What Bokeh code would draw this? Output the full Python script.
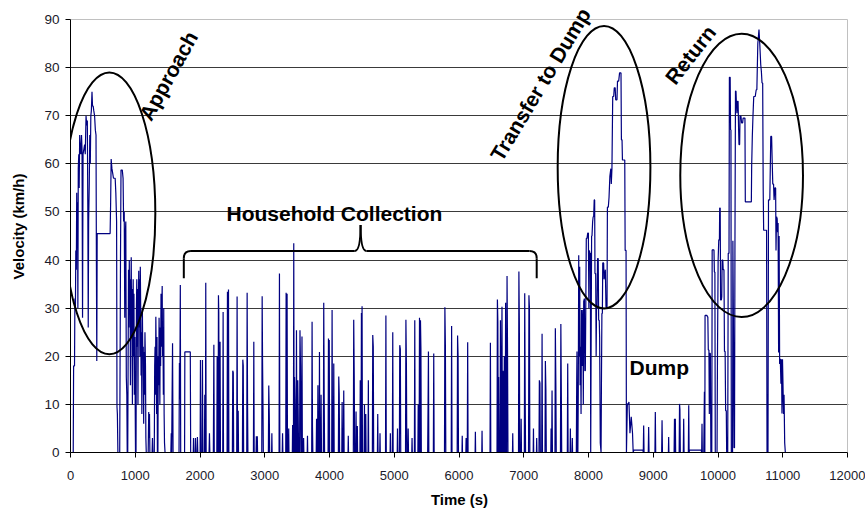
import math
from bokeh.plotting import figure
from bokeh.models import FixedTicker, Range1d, Label
from bokeh.embed import file_html
from bokeh.resources import INLINE

# ---------------- data (time s, velocity km/h) ----------------
approach_t = [0, 42, 48, 62, 68, 76, 82, 90, 96, 102, 108, 114, 120, 128, 134, 142, 150, 160, 170, 178,
              186, 194, 206, 218, 228, 240, 250, 260, 268, 274, 280, 290, 298, 306, 314, 322, 332, 340,
              350, 360, 372, 384, 394, 400, 406, 412, 612, 620, 628, 640, 652, 664, 676, 690, 700, 712,
              718, 724, 732, 760, 766, 772, 780, 800, 812, 820, 830, 838, 846, 854, 862, 870, 876, 884,
              890, 896, 902, 908, 914, 920, 926, 932, 938, 944, 950, 956, 962, 968, 974, 980, 986, 994,
              1000, 1004, 1012, 1018, 1024, 1030, 1036, 1042, 1048, 1054, 1060, 1066, 1072, 1078, 1084,
              1090, 1096, 1102, 1110, 1116, 1124, 1130, 1136, 1142, 1150, 1158, 1164, 1170, 1200, 1208,
              1214, 1220, 1226, 1260, 1266, 1272, 1294, 1300, 1306, 1312, 1318, 1324, 1330, 1336, 1342,
              1350, 1356, 1362, 1368, 1374, 1380, 1386, 1392, 1398, 1404, 1410, 1416, 1422, 1428, 1434,
              1440, 1446, 1452, 1460]
approach_v = [0, 0, 18, 18, 32, 30, 42, 38, 54, 43, 52, 30, 59, 62, 55, 66, 63, 62, 66, 63,
              28, 62, 63, 64, 62, 70, 68, 69, 49, 26, 48, 56, 66, 60, 70, 71, 75, 72,
              72, 71, 70, 67, 66, 40, 19, 45.5, 45.5, 52, 61, 59, 58, 57, 57, 57, 54, 48,
              9.5, 8, 0, 0, 20, 40, 58.7, 58.7, 57, 48, 50, 28, 45, 48, 15.7, 12, 0, 0,
              20, 38, 26, 40, 30, 36, 14, 32, 40.6, 24, 34, 10, 28, 36, 20, 33, 12, 24,
              8, 0, 0, 30, 36, 22, 34, 10, 30, 37.8, 26, 36, 20, 38.6, 30,
              16, 25, 8, 30, 20, 22, 6, 20.9, 12, 25, 18, 3, 0, 0, 8.4,
              3, 8, 0, 0, 3, 0, 0, 18, 22, 12, 28.2, 20, 8, 24, 0,
              0, 20, 14, 28, 20, 10, 26, 18, 33, 22, 30, 34.6, 20, 26, 12,
              30, 8, 2, 0]

collection_t = [1550, 1556, 1562, 1568, 1576, 1584, 1676, 1682, 1688, 1696, 1702, 1762, 1766, 1850, 1856,
                1896, 1900, 1904, 1926, 1930, 1934, 1954, 1960, 1966, 2002, 2007, 2013, 2032, 2038, 2044,
                2068, 2074, 2080, 2084, 2089, 2095, 2140, 2146, 2152, 2206, 2210, 2214, 2220, 2260, 2265,
                2271, 2280, 2285, 2290, 2296, 2304, 2310, 2316, 2351, 2357, 2363, 2418, 2424, 2430, 2434,
                2440, 2446, 2500, 2506, 2514, 2520, 2567, 2573, 2579, 2585, 2590, 2595, 2655, 2661, 2668,
                2674, 2722, 2728, 2734, 2740, 2825, 2831, 2837, 2866, 2870, 2874, 2881, 2885, 2889, 2954,
                2960, 2966, 2972, 2978, 3056, 3062, 3070, 3076, 3106, 3110, 3114, 3221, 3227, 3233, 3270,
                3275, 3280, 3324, 3330, 3338, 3341, 3345, 3351, 3366, 3370, 3374, 3426, 3430, 3436, 3443,
                3448, 3454, 3456, 3460, 3466, 3472, 3484, 3490, 3496, 3504, 3510, 3516, 3522, 3538, 3544,
                3552, 3560, 3568, 3575, 3581, 3596, 3600, 3604, 3656, 3660, 3664, 3725, 3731, 3737, 3743,
                3795, 3800, 3805, 3815, 3821, 3827, 3840, 3845, 3851, 3864, 3870, 3876, 3905, 3911, 3918,
                3924, 3978, 3984, 3990, 3992, 3996, 4002, 4034, 4040, 4046, 4052, 4060, 4066, 4072, 4137,
                4143, 4150, 4156, 4190, 4195, 4200, 4214, 4220, 4226, 4286, 4290, 4294, 4368, 4374, 4382,
                4388, 4405, 4410, 4415, 4426, 4430, 4434, 4470, 4475, 4480, 4487, 4493, 4497, 4499, 4503,
                4509, 4535, 4540, 4545, 4555, 4560, 4565, 4595, 4600, 4605, 4662, 4668, 4676, 4682, 4740,
                4745, 4750, 4776, 4780, 4784, 4865, 4871, 4877, 4936, 4940, 4944, 4971, 4977, 4983, 5046,
                5050, 5054, 5079, 5085, 5094, 5100, 5174, 5180, 5188, 5194, 5210, 5215, 5220, 5271, 5275,
                5279, 5311, 5317, 5323, 5365, 5370, 5375, 5384, 5390, 5396, 5400, 5405, 5412, 5418, 5516,
                5522, 5528, 5534, 5604, 5610, 5616, 5776, 5782, 5790, 5796, 5880, 5886, 5892, 5972, 5978,
                5986, 5992, 6046, 6050, 6054, 6106, 6110, 6114, 6128, 6134, 6140, 6249, 6253, 6257, 6352,
                6356, 6360, 6479, 6485, 6491, 6587, 6593, 6600, 6606, 6608, 6612, 6618, 6634, 6640, 6646,
                6652, 6658, 6664, 6670, 6676, 6680, 6686, 6694, 6700, 6706, 6714, 6720, 6726, 6736, 6742,
                6750, 6756, 6826, 6830, 6834, 6919, 6925, 6932, 6938, 6955, 6960, 6965, 7009, 7015, 7022,
                7028, 7074, 7080, 7088, 7094, 7146, 7150, 7154, 7196, 7200, 7204, 7235, 7241, 7250, 7256,
                7277, 7283, 7289, 7328, 7334, 7342, 7348, 7418, 7422, 7426, 7431, 7437, 7443, 7482, 7488,
                7496, 7502, 7567, 7573, 7580, 7586, 7673, 7679, 7685, 7716, 7720, 7724, 7745, 7750, 7754,
                7800]
collection_v = [0, 4, 0, 10, 22.7, 0, 0, 18.6, 11, 34.8, 0, 0, 20.9, 20.9, 0,
                0, 3, 0, 0, 3, 0, 0, 3.2, 0, 0, 19.2, 0, 0, 19.2, 0,
                0, 12, 0, 0, 35.3, 0, 0, 4, 0, 0, 10.5, 22.4, 0, 0, 20,
                0, 0, 32.7, 29.2, 0, 0, 23, 0, 0, 29.2, 0, 0, 33.4, 0, 0,
                33.9, 0, 0, 17, 16.6, 0, 0, 32.4, 0, 0, 8.7, 0, 0, 19.3, 18,
                0, 0, 33.2, 11, 0, 0, 23, 0, 0, 3.4, 0, 0, 3.4, 0, 0,
                32.5, 19, 11, 0, 0, 13.9, 7.7, 0, 0, 4, 0, 0, 37.2, 0, 0,
                4, 0, 0, 33.2, 0, 0, 33, 0, 0, 5, 0, 0, 5.7, 0, 0,
                43.5, 0, 0, 15.7, 11, 0, 0, 25.4, 0, 0, 15, 9, 0, 0, 25.4,
                18, 0, 0, 24.1, 0, 0, 3, 0, 0, 3.5, 0, 0, 27.2, 5.5, 0,
                0, 7, 0, 0, 14, 0, 0, 20.9, 0, 0, 12, 0, 0, 31.1, 12,
                0, 0, 23.7, 0, 0, 23.4, 0, 0, 29.6, 3.5, 0, 0, 18.5, 0, 0,
                15.8, 12.2, 0, 0, 10.5, 0, 0, 12.9, 0, 0, 3.5, 0, 0, 27.6, 15.7,
                0, 0, 8.5, 0, 0, 5.5, 0, 0, 15, 0, 0, 29, 0, 0, 30.4,
                0, 0, 10, 0, 0, 8, 0, 0, 15, 0, 0, 24.4, 22, 0, 0,
                8, 0, 0, 4, 0, 0, 28.5, 0, 0, 4, 0, 0, 25, 0, 0,
                5, 0, 0, 22.3, 21.5, 0, 0, 27.6, 17.8, 0, 0, 5, 0, 0, 3,
                0, 0, 27.5, 0, 0, 10, 0, 0, 28, 0, 0, 27.5, 21.5, 0, 0,
                9.5, 21, 0, 0, 20.6, 0, 0, 30.2, 22, 0, 0, 26.3, 0, 0, 24.3,
                20, 0, 0, 3.5, 0, 0, 3, 0, 0, 22.9, 0, 0, 4.3, 0, 0,
                4.5, 0, 0, 22.8, 0, 0, 31.8, 27.2, 0, 0, 15.7, 0, 0, 27.5, 0,
                0, 18, 30.3, 0, 0, 17, 0, 0, 20, 0, 0, 31.1, 0, 0, 36.7,
                20, 0, 0, 4, 0, 0, 37.6, 26.7, 0, 0, 7, 0, 0, 33.1, 12,
                0, 0, 32.7, 30, 0, 0, 5, 0, 0, 3, 0, 0, 15, 14.4, 0,
                0, 24.7, 0, 0, 19, 13, 0, 0, 5, 0, 0, 12.9, 0, 0, 25.8,
                14, 0, 0, 26.7, 13, 0, 0, 18.5, 0, 0, 5, 0, 0, 3, 0,
                0]

transfer_t = [7812, 7818, 7822, 7828, 7836, 7842, 7849, 7856, 7864, 7870, 7878, 7885, 7892, 7900, 7906,
              7913, 7920, 7926, 7936, 7944, 7951, 7958, 7966, 7977, 7988, 7998, 8006, 8012, 8022, 8029,
              8034, 8040, 8048, 8054, 8064, 8072, 8080, 8088, 8095, 8100, 8111, 8118, 8124, 8132, 8140,
              8150, 8157, 8166, 8172, 8182, 8194, 8200, 8207, 8214, 8220, 8234, 8240, 8260, 8270, 8286,
              8292, 8306, 8317, 8330, 8345, 8352, 8362, 8374, 8389, 8398, 8412, 8420, 8440, 8448, 8466,
              8480, 8502, 8508, 8518, 8524, 8560, 8566, 8580, 8586, 8600, 8615, 8625, 8640, 8660, 8680,
              8690]
transfer_v = [0, 15, 21, 0, 0, 12, 41, 20, 38.6, 14, 22, 8, 29.6, 18, 26,
              29.6, 10, 31.4, 32, 17, 17, 30, 44.5, 44.5, 45.6, 45.6, 30, 42, 41.4, 41.4,
              0, 20, 45, 45, 48, 49, 49, 52.5, 52.5, 37.2, 37.2, 20, 30, 30, 40.3,
              40.3, 27.5, 27.5, 24, 2, 0, 15, 28.9, 28.9, 39.4, 39.4, 36, 38, 30.3, 30.3,
              51, 51, 53, 57.4, 59, 55.8, 59, 74, 74, 75.8, 75.8, 73.3, 73.3, 77.2, 77.2,
              78.9, 78.9, 65, 65, 60.8, 60.8, 42, 42, 0, 10.1, 10.1, 10.5, 4, 7.4, 4,
              0]

dump_t = [8700, 8840, 8846, 8852, 8858, 8923, 8929, 8935, 9026, 9032, 9038, 9130, 9136, 9142, 9234,
          9238, 9242, 9322, 9328, 9334, 9337, 9341, 9346, 9400, 9406, 9412, 9418, 9464, 9470, 9476,
          9542, 9548, 9554, 9560, 9740, 9748, 9753, 9758, 9780]
dump_v = [0.5, 0.5, 0, 5.6, 0, 0, 5.3, 0, 0, 8.4, 0, 0, 6.7, 0, 0,
          3.2, 0, 0, 7, 0, 0, 7, 0, 0, 10.1, 9, 0, 0, 7, 0,
          0, 9.8, 0, 0.5, 0.5, 0, 6, 0, 0]

return_t = [9790, 9797, 9800, 9830, 9836, 9843, 9850, 9860, 9866, 9872, 9882, 9890, 9904, 9910, 9938,
            9944, 9952, 9958, 9985, 9992, 10002, 10012, 10022, 10026, 10034, 10040, 10052, 10058, 10064,
            10074, 10080, 10092, 10100, 10110, 10118, 10128, 10134, 10150, 10158, 10170, 10176, 10188,
            10194, 10200, 10206, 10225, 10230, 10240, 10248, 10255, 10262, 10270, 10278, 10284, 10292,
            10300, 10310, 10318, 10324, 10334, 10340, 10355, 10364, 10380, 10388, 10416, 10422, 10515,
            10520, 10530, 10540, 10552, 10575, 10590, 10600, 10615, 10633, 10645, 10660, 10670, 10680,
            10690, 10698, 10705, 10750, 10757, 10772, 10780, 10800, 10815, 10828, 10836, 10846, 10858,
            10866, 10880, 10890, 10896, 10904, 10914, 10920, 10928, 10936, 10944, 10952, 10962, 10972,
            10980, 10988, 10996, 11004, 11012, 11020, 11030, 11040, 11100]
return_v = [12.6, 0, 28.5, 28.5, 28.2, 28.2, 21.3, 21.3, 8, 20.6, 20.6, 0, 0, 42.1, 42.1,
            37.5, 37.5, 0, 0, 20, 40, 44.2, 44.2, 50.8, 50.8, 31.7, 31.7, 32.4, 40,
            40, 38, 38, 21, 21, 8.7, 8.7, 0, 0, 41.4, 41.4, 78, 78,
            67.1, 67.1, 0, 0, 44, 22.6, 1, 1, 44, 75.1, 75.1, 72.6, 70.5,
            73, 73, 67.4, 64, 64, 69.9, 69.9, 68.5, 68.5, 69.5, 69.5, 52.1, 52.1,
            59.5, 65.7, 69.9, 74, 74, 75.4, 75.4, 85, 87.9, 85, 80.6, 79.2, 76.8,
            76.8, 54.6, 46.2, 46.2, 0, 0, 52.5, 52.5, 65.7, 65.7, 61, 55.8, 55.8,
            52.5, 55, 55, 42, 49, 48.6, 45.8, 47.7, 20.8, 45, 18.4, 19.5, 14.3,
            19.4, 8.1, 19.4, 14, 8, 12, 2, 0, 0]

x_ticks = [0, 1000, 2000, 3000, 4000, 5000, 6000, 7000, 8000, 9000, 10000, 11000, 12000]
y_ticks = [0, 10, 20, 30, 40, 50, 60, 70, 80, 90]
X_MAX, Y_MAX = 12000, 90

# annotation geometry (data units)
ellipse_x = [600, 8240, 10365]
ellipse_y = [49.7, 59.3, 57.6]
ellipse_w = [1420, 1432, 1895]
ellipse_h = [58.6, 58.7, 58.9]

time = approach_t + collection_t + transfer_t + dump_t + return_t
velocity = approach_v + collection_v + transfer_v + dump_v + return_v

FONT = "Liberation Sans"

# frame extends above 90 (to the canvas top) so rotated labels are not clipped;
# 19 px at 433 px / 90 km/h
y_top = Y_MAX + 19 * Y_MAX / 433.0
x_right = X_MAX + 1 * X_MAX / 777.0

p = figure(width=865, height=510, x_range=Range1d(0, x_right), y_range=Range1d(0, y_top),
           output_backend="svg", toolbar_location=None,
           min_border_left=70, min_border_right=17, min_border_top=0, min_border_bottom=58)
p.background_fill_color = "white"
p.border_fill_color = "white"
p.outline_line_color = None

p.xgrid.visible = False
p.ygrid.ticker = FixedTicker(ticks=y_ticks[1:-1])
p.ygrid.grid_line_color = "#3a3a3a"
p.ygrid.grid_line_width = 1
p.ygrid.bounds = (0, X_MAX)

for ax in (p.xaxis[0], p.yaxis[0]):
    ax.axis_line_color = "black"
    ax.axis_line_width = 1
    ax.major_tick_line_color = "black"
    ax.major_tick_in = 0
    ax.major_tick_out = 5
    ax.minor_tick_line_color = None
    ax.major_label_text_font = FONT
    ax.major_label_text_font_size = "13px"
    ax.major_label_text_color = "#1a1a2a"
    ax.axis_label_text_font = FONT
    ax.axis_label_text_font_size = "15px"
    ax.axis_label_text_font_style = "bold"
    ax.axis_label_text_color = "black"

p.yaxis.major_label_text_font_size = "13.5px"
p.xaxis.ticker = FixedTicker(ticks=x_ticks)
p.yaxis.ticker = FixedTicker(ticks=y_ticks)
p.xaxis.bounds = (0, X_MAX)
p.yaxis.bounds = (0, Y_MAX)
p.xaxis.axis_label = "Time (s)"
p.yaxis.axis_label = "Velocity (km/h)"
p.xaxis.major_label_standoff = 13
p.yaxis.major_label_standoff = 6
p.xaxis.axis_label_standoff = 8
p.yaxis.axis_label_standoff = 14

# light plot-area border on top and right
p.line([0, X_MAX, X_MAX], [Y_MAX, Y_MAX, 0], line_color="#c0c0c0", line_width=1)

p.line(time, velocity, line_color="#000080", line_width=1.2)

p.ellipse(x=ellipse_x, y=ellipse_y, width=ellipse_w, height=ellipse_h,
          fill_color=None, line_color="black", line_width=2)

# brace for household collection
bx_l, bx_m, bx_r = 1750, 4480, 7200
by_end, by_bar, by_tip = 36.2, 41.9, 47.3
bk = dict(line_color="black", line_width=2)
p.line([bx_l, bx_l], [by_end, 40.4], **bk)
p.quadratic(x0=[bx_l], y0=[40.4], cx=[bx_l], cy=[by_bar], x1=[bx_l + 110], y1=[by_bar], **bk)
p.line([bx_l + 110, bx_m - 90], [by_bar, by_bar], **bk)
p.quadratic(x0=[bx_m - 90], y0=[by_bar], cx=[bx_m], cy=[by_bar], x1=[bx_m], y1=[by_tip], **bk)
p.quadratic(x0=[bx_m], y0=[by_tip], cx=[bx_m], cy=[by_bar], x1=[bx_m + 90], y1=[by_bar], **bk)
p.line([bx_m + 90, bx_r - 110], [by_bar, by_bar], **bk)
p.quadratic(x0=[bx_r - 110], y0=[by_bar], cx=[bx_r], cy=[by_bar], x1=[bx_r], y1=[40.4], **bk)
p.line([bx_r, bx_r], [40.4, by_end], **bk)

labels = [
    ("Approach", 1513, 78.3, 61),
    ("Transfer to Dump", 7257, 76.5, 59),
    ("Return", 9573, 82.7, 52),
    ("Household Collection", 4076, 49.6, 0),
    ("Dump", 9094, 17.7, 0),
]
for txt, lx, ly, ang in labels:
    p.add_layout(Label(x=lx, y=ly, text=txt, angle=math.radians(ang),
                       text_align="center", text_baseline="middle",
                       text_font=FONT, text_font_size="21px", text_font_style="bold",
                       text_color="black"))

open("out.html", "w").write(file_html(p, INLINE))
